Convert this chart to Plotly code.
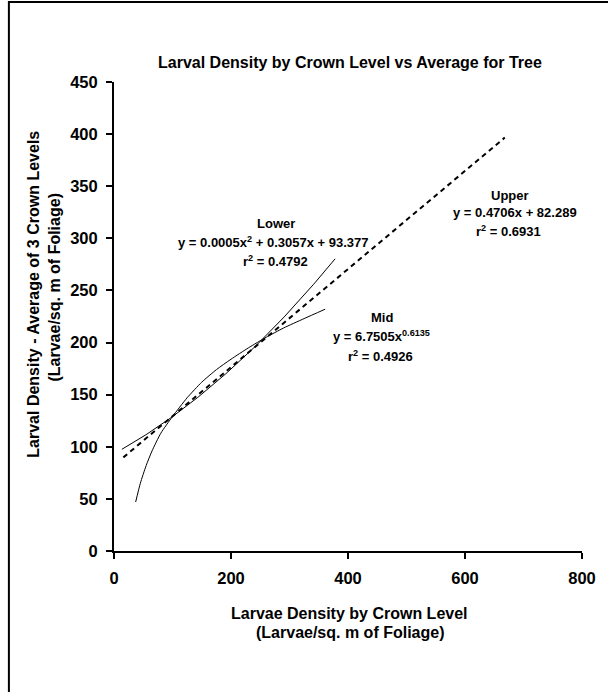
import numpy as np
import plotly.graph_objects as go

# Fitted trendlines: average larval density of the tree vs. density at each crown level
upper_slope, upper_intercept = 0.4706, 82.289          # linear fit, r^2 = 0.6931
upper_x_range = [16, 668]

lower_coef = [0.0005, 0.3057, 93.377]                   # quadratic fit, r^2 = 0.4792
lower_x_range = [13.5, 378]

# Mid crown curve, sampled along its drawn path
mid_x = [37, 45, 55, 65, 80, 100, 125, 150, 175, 200, 230, 260, 290, 325, 361]
mid_y = [47, 65, 82, 96, 113, 129, 147, 162, 174, 184, 195, 205, 214, 223, 232]

x_ticks = [0, 200, 400, 600, 800]
y_ticks = [0, 50, 100, 150, 200, 250, 300, 350, 400, 450]

W, H = 608, 692
ML, MR, MT, MB = 114, 22, 82, 141
PW, PH = W - ML - MR, H - MT - MB

FONT = "Liberation Sans, Arial, sans-serif"


def px_x(px):
    return (px - ML) / PW


def px_y(py):
    return (H - MB - py) / PH


ux = np.linspace(*upper_x_range, 2)
uy = upper_slope * ux + upper_intercept

lx = np.linspace(*lower_x_range, 120)
ly = lower_coef[0] * lx ** 2 + lower_coef[1] * lx + lower_coef[2]

fig = go.Figure()
fig.add_trace(go.Scatter(x=lx, y=ly, mode="lines", name="Lower",
                         line=dict(color="black", width=1)))
fig.add_trace(go.Scatter(x=mid_x, y=mid_y, mode="lines", name="Mid",
                         line=dict(color="black", width=1, shape="spline", smoothing=0.6)))
fig.add_trace(go.Scatter(x=ux, y=uy, mode="lines", name="Upper",
                         line=dict(color="black", width=2, dash="5px,4px")))

axis_common = dict(
    showgrid=False, zeroline=False, showline=True, linecolor="black", linewidth=2,
    ticks="outside", ticklen=6, tickwidth=1.5, tickcolor="black",
    tickfont=dict(family=FONT, size=16.5, color="black", weight="bold"),
)
fig.update_xaxes(range=[0, 800], tickvals=x_ticks, ticklabelstandoff=5, **axis_common)
fig.update_yaxes(range=[0, 450], tickvals=y_ticks, ticklabelstandoff=5, **axis_common)

annotations = []


def label(text, px, py, size=13, angle=0):
    annotations.append(dict(
        text=text, x=px_x(px), y=px_y(py), xref="paper", yref="paper",
        xanchor="center", yanchor="middle", showarrow=False, textangle=angle,
        font=dict(family=FONT, size=size, color="black", weight="bold"),
    ))


label("Larval Density by Crown Level vs Average for Tree", 352, 63, size=16)

label("Larvae Density by Crown Level", 352, 613, size=16)
label("(Larvae/sq. m of Foliage)", 352, 632, size=16)
label("Larval Density - Average of 3 Crown Levels", 32, 294, size=16, angle=-90)
label("(Larvae/sq. m of Foliage)", 53, 288, size=16, angle=-90)

label("Lower", 277, 223)
label("y = 0.0005x<sup>2</sup> + 0.3057x + 93.377", 275, 242)
label("r<sup>2</sup> = 0.4792", 277, 261)

label("Mid", 384, 317)
label("y = 6.7505x<sup>0.6135</sup>", 384, 336)
label("r<sup>2</sup> = 0.4926", 383, 356)

label("Upper", 513, 195)
label("y = 0.4706x + 82.289", 518, 212)
label("r<sup>2</sup> = 0.6931", 512, 231)

# chart-area frame, running off the right and bottom edges of the page
shapes = [dict(type="rect", xref="paper", yref="paper",
               x0=px_x(8), x1=px_x(640), y0=px_y(720), y1=px_y(2),
               line=dict(color="black", width=2), fillcolor="rgba(0,0,0,0)")]

fig.update_layout(
    width=W, height=H, autosize=False,
    margin=dict(l=ML, r=MR, t=MT, b=MB, pad=0),
    paper_bgcolor="white", plot_bgcolor="white",
    showlegend=False,
    annotations=annotations,
    shapes=shapes,
    font=dict(family=FONT, color="black"),
)

fig.write_html("out.html")
